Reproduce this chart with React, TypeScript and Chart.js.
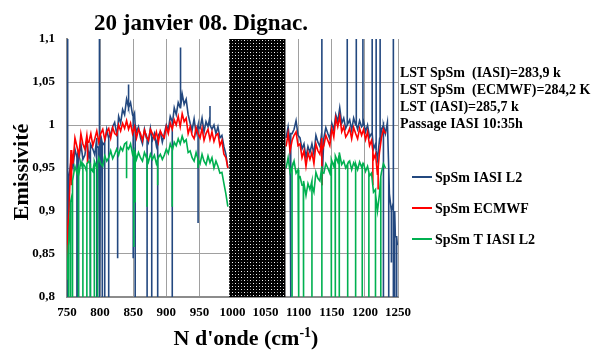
import { useEffect, useRef } from 'react';
import { Chart, registerables } from 'chart.js';

Chart.register(...registerables);

const TITLE = '20 janvier 08. Dignac.';
const Y_TITLE = 'Emissivité';
const X_TITLE_MAIN = "N d'onde (cm";
const X_TITLE_SUP = '-1';
const X_TITLE_END = ')';
const NOTES = [
  'LST SpSm  (IASI)=283,9 k',
  'LST SpSm  (ECMWF)=284,2 K',
  'LST (IASI)=285,7 k',
  'Passage IASI 10:35h',
];
const SERIES_NAMES = ['SpSm IASI L2', 'SpSm ECMWF', 'SpSm T IASI L2'];
const SERIES_COLORS = ['#23487f', '#ff0000', '#00b050'];

const X_MIN = 750;
const X_MAX = 1250;
const X_STEP = 50;
const Y_MIN = 0.8;
const Y_MAX = 1.1;
const Y_STEP = 0.05;
const MASK_FROM = 995;
const MASK_TO = 1080;

// spectral sampling grid (cm-1)
const GRID_A_START = 750;
const GRID_B_START = 1081;
const GRID_STEP = 3;

// ---- SpSm IASI L2 (blue) ----
const BLUE_A = [
  0.90, 0.94, 0.958, 0.95, 0.972, 0.962, 0.955, 0.978, 0.96, 0.965, 0.982, 0.963,
  0.978, 0.972, 0.965, 0.985, 0.974, 0.988, 0.98, 0.976, 0.995, 0.984, 0.99, 0.998,
  1.003, 0.99, 1.01, 1.002, 1.018, 1.012, 1.03, 1.02, 1.026, 1.012, 1.014, 0.992,
  0.998, 0.985, 0.978, 0.995, 0.985, 0.98, 0.996, 0.982, 0.99, 0.976, 0.988, 0.992,
  0.98, 0.99, 1.0, 0.994, 1.01, 1.004, 1.02, 1.012, 1.026, 1.02, 1.036, 1.024,
  1.03, 1.012, 1.002, 0.994, 1.007, 0.99, 1.0, 0.996, 1.008, 0.992, 1.004, 0.998,
  1.01, 0.995, 1.0, 0.99, 0.998, 0.985, 0.988, 0.975, 0.966, 0.95,
];
const BLUE_B = [
  0.985, 0.998, 0.978, 0.99, 0.995, 1.005, 0.988, 0.985, 0.972, 0.978, 0.962, 0.975,
  0.968, 0.978, 0.966, 0.988, 0.98, 0.975, 0.992, 0.985, 0.997, 0.99, 0.984, 1.002,
  0.994, 1.012, 1.004, 1.02, 1.002, 1.008, 0.996, 1.0, 1.006, 0.994, 1.008, 1.0,
  0.995, 1.005, 0.998, 1.004, 0.992, 1.0, 0.986, 0.99, 0.972, 0.978, 0.96, 0.982,
  0.995, 1.0, 0.99, 1.003, 0.92, 0.9, 0.91, 0.87, 0.86,
];
// [wavenumber, local level, spike tip]
const BLUE_SPIKES: [number, number, number][] = [
  [751, 0.8, 1.15], [765, 0.96, 0.8], [767, 0.97, 0.8], [785, 0.97, 0.8], [795, 0.975, 0.8],
  [799, 0.8, 1.15], [803, 0.98, 0.8], [807, 0.98, 0.8], [813, 0.985, 0.8], [826.5, 0.995, 0.845],
  [843, 1.02, 1.047], [850, 1.01, 0.845], [853, 1.0, 0.8], [871, 0.985, 0.8], [878, 0.985, 0.8],
  [887, 0.985, 0.8], [909, 1.0, 0.8], [921.5, 1.02, 1.09], [948, 0.998, 0.886], [966, 1.0, 1.022],
  [1088, 0.99, 0.8], [1135, 0.93, 1.15], [1173, 1.0, 1.15], [1187, 1.0, 1.15], [1197, 1.0, 1.15],
  [1211, 0.99, 1.15], [1217, 0.97, 1.15], [1223, 0.98, 1.15], [1228, 1.0, 0.8], [1236, 0.95, 0.8],
  [1240, 0.9, 0.84], [1243, 0.8, 1.15], [1245, 0.9, 0.8], [1248, 0.87, 0.8],
];

// ---- SpSm ECMWF (red) ----
const RED_A = [
  0.85, 0.9, 0.97, 0.955, 0.985, 0.975, 0.965, 0.99, 0.978, 0.972, 0.988, 0.98,
  0.99, 0.976, 0.984, 0.993, 0.98, 0.99, 0.995, 0.983, 0.992, 0.996, 0.985, 0.997,
  0.99, 0.988, 1.0, 0.993, 1.002, 0.996, 1.005, 0.995, 1.002, 0.99, 0.998, 0.985,
  0.995, 0.99, 0.982, 0.994, 0.986, 0.982, 0.995, 0.99, 0.984, 0.992, 0.98, 0.993,
  0.988, 0.985, 0.998, 0.99, 1.002, 0.995, 1.006, 1.0, 1.01, 0.998, 1.013, 1.004,
  1.008, 0.99, 0.998, 0.988, 0.984, 0.997, 0.99, 0.985, 0.996, 0.982, 0.99, 0.995,
  0.983, 0.992, 0.981, 0.988, 0.99, 0.976, 0.982, 0.966, 0.962, 0.95,
];
const RED_B = [
  0.975, 0.99, 0.97, 0.982, 0.988, 0.992, 0.976, 0.978, 0.962, 0.97, 0.952, 0.968,
  0.96, 0.968, 0.955, 0.978, 0.97, 0.966, 0.985, 0.976, 0.988, 0.982, 0.976, 0.996,
  0.986, 1.008, 0.998, 1.01, 0.992, 0.998, 0.986, 0.99, 0.996, 0.984, 0.997, 0.99,
  0.984, 0.996, 0.988, 0.995, 0.983, 0.992, 0.976, 0.982, 0.96, 0.966, 0.942, 0.968,
  0.985, 0.995, 0.99,
];
const RED_SPIKES: [number, number, number][] = [
  [751, 0.88, 0.83], [757, 0.97, 0.93], [781, 0.98, 0.955], [1135, 0.97, 0.93],
  [1212, 0.97, 0.93], [1220, 0.95, 0.925],
];

// ---- SpSm T IASI L2 (green) ----
const GREEN_A = [
  0.82, 0.86, 0.91, 0.935, 0.952, 0.944, 0.94, 0.958, 0.948, 0.952, 0.945, 0.958,
  0.95, 0.946, 0.958, 0.95, 0.962, 0.955, 0.952, 0.964, 0.958, 0.962, 0.97, 0.961,
  0.966, 0.972, 0.965, 0.974, 0.97, 0.978, 0.98, 0.972, 0.978, 0.966, 0.97, 0.96,
  0.968, 0.962, 0.958, 0.968, 0.962, 0.957, 0.966, 0.96, 0.965, 0.955, 0.962, 0.966,
  0.96, 0.965, 0.972, 0.967, 0.978, 0.972, 0.98, 0.976, 0.984, 0.978, 0.987, 0.98,
  0.983, 0.968, 0.97, 0.962, 0.958, 0.968, 0.96, 0.955, 0.966, 0.958, 0.954, 0.964,
  0.956, 0.962, 0.95, 0.958, 0.952, 0.944, 0.945, 0.932, 0.92, 0.905,
];
const GREEN_B = [
  0.95, 0.962, 0.945, 0.952, 0.958, 0.944, 0.948, 0.94, 0.93, 0.935, 0.918, 0.932,
  0.925, 0.935, 0.922, 0.945, 0.938, 0.935, 0.952, 0.944, 0.955, 0.95, 0.944, 0.96,
  0.952, 0.964, 0.957, 0.968, 0.954, 0.958, 0.95, 0.955, 0.958, 0.948, 0.956, 0.951,
  0.948, 0.957, 0.951, 0.955, 0.946, 0.952, 0.941, 0.944, 0.922, 0.925, 0.9, 0.92,
  0.945, 0.955, 0.95,
];
const GREEN_SPIKES: [number, number, number][] = [
  [752, 0.86, 0.8], [755, 0.9, 0.8], [758, 0.92, 0.8], [767, 0.95, 0.8], [774, 0.955, 0.8],
  [780, 0.955, 0.8], [785, 0.955, 0.8], [791, 0.955, 0.8], [796, 0.955, 0.8], [840, 0.975, 0.938],
  [851, 0.97, 0.858], [853, 0.968, 0.91], [871, 0.962, 0.905], [887, 0.96, 0.93], [909, 0.97, 0.905],
  [948, 0.96, 0.95], [1090, 0.95, 0.8], [1100, 0.94, 0.8], [1107, 0.93, 0.8], [1120, 0.93, 0.8],
  [1135, 0.945, 0.8], [1149, 0.955, 0.8], [1155, 0.96, 0.8], [1161, 0.965, 0.8], [1174, 0.955, 0.8],
  [1186, 0.955, 0.8], [1196, 0.953, 0.8], [1206, 0.945, 0.8], [1216, 0.92, 0.8], [1224, 0.94, 0.8],
];

type Pt = { x: number; y: number | null };

function buildSeries(a: number[], b: number[], spikes: [number, number, number][]): Pt[] {
  const base: Pt[] = [];
  a.forEach((v, i) => base.push({ x: GRID_A_START + i * GRID_STEP, y: v }));
  base.push({ x: (MASK_FROM + MASK_TO) / 2, y: null });
  b.forEach((v, i) => base.push({ x: GRID_B_START + i * GRID_STEP, y: v }));
  const groups: Pt[][] = base.map((p) => [p]);
  spikes.forEach(([x, level, tip]) =>
    groups.push([{ x, y: level }, { x, y: tip }, { x, y: level }])
  );
  groups.sort((g, h) => g[0].x - h[0].x);
  return groups.flat();
}

const FONT = "'Liberation Serif', 'Times New Roman', serif";

function makePattern(ctx: CanvasRenderingContext2D) {
  const c = document.createElement('canvas');
  c.width = 6;
  c.height = 6;
  const g = c.getContext('2d')!;
  g.fillStyle = '#000';
  g.fillRect(0, 0, 6, 6);
  g.fillStyle = '#ffffff';
  g.fillRect(1, 1, 1, 1);
  g.fillRect(4, 4, 1, 1);
  g.fillStyle = '#8a8a8a';
  g.fillRect(4, 1, 1, 1);
  g.fillRect(1, 4, 1, 1);
  return ctx.createPattern(c, 'repeat')!;
}

const decorPlugin = {
  id: 'decor',
  afterDatasetsDraw(chart: any) {
    const { ctx, chartArea, scales } = chart;
    const x0 = scales.x.getPixelForValue(MASK_FROM);
    const x1 = scales.x.getPixelForValue(MASK_TO);
    ctx.save();
    ctx.fillStyle = makePattern(ctx);
    ctx.fillRect(x0, chartArea.top, x1 - x0, chartArea.bottom - chartArea.top);
    ctx.restore();
  },
  afterDraw(chart: any) {
    const { ctx, chartArea } = chart;
    ctx.save();
    ctx.fillStyle = '#000';
    // title
    ctx.font = `bold 23px ${FONT}`;
    ctx.textAlign = 'center';
    ctx.textBaseline = 'alphabetic';
    ctx.fillText(TITLE, 201, 30);
    // y title
    ctx.save();
    ctx.translate(22, (chartArea.top + chartArea.bottom) / 2 + 4);
    ctx.rotate(-Math.PI / 2);
    ctx.font = `bold 22px ${FONT}`;
    ctx.textAlign = 'center';
    ctx.textBaseline = 'middle';
    ctx.fillText(Y_TITLE, 0, 0);
    ctx.restore();
    // x title
    ctx.textAlign = 'left';
    ctx.font = `bold 22px ${FONT}`;
    const wMain = ctx.measureText(X_TITLE_MAIN).width;
    const wEnd = ctx.measureText(X_TITLE_END).width;
    ctx.font = `bold 14px ${FONT}`;
    const wSup = ctx.measureText(X_TITLE_SUP).width;
    const total = wMain + wSup + wEnd;
    let xs = 246 - total / 2;
    ctx.font = `bold 22px ${FONT}`;
    ctx.fillText(X_TITLE_MAIN, xs, 345);
    xs += wMain;
    ctx.font = `bold 14px ${FONT}`;
    ctx.fillText(X_TITLE_SUP, xs, 337);
    xs += wSup;
    ctx.font = `bold 22px ${FONT}`;
    ctx.fillText(X_TITLE_END, xs, 345);
    // notes
    ctx.font = `bold 14px ${FONT}`;
    NOTES.forEach((t, i) => ctx.fillText(t, 400, 77 + i * 17));
    // legend
    ctx.textBaseline = 'middle';
    chart.data.datasets.forEach((ds: any, i: number) => {
      const y = 177 + i * 31;
      ctx.strokeStyle = ds.borderColor;
      ctx.lineWidth = 2;
      ctx.beginPath();
      ctx.moveTo(412, y);
      ctx.lineTo(432, y);
      ctx.stroke();
      ctx.fillStyle = '#000';
      ctx.fillText(ds.label, 435, y + 1);
    });
    ctx.restore();
  },
};

export default function App() {
  const ref = useRef<HTMLCanvasElement | null>(null);
  useEffect(() => {
    if (!ref.current) return;
    const fmt = (v: number) => String(Number(v.toFixed(2))).replace('.', ',');
    const mk = (i: number, a: number[], b: number[], s: [number, number, number][]) => ({
      label: SERIES_NAMES[i],
      data: buildSeries(a, b, s) as any,
      borderColor: SERIES_COLORS[i],
      borderWidth: 1.6,
      pointRadius: 0,
      order: 2 - i,
    });
    const chart = new Chart(ref.current, {
      type: 'line',
      data: {
        datasets: [
          mk(0, BLUE_A, BLUE_B, BLUE_SPIKES),
          mk(1, RED_A, RED_B, RED_SPIKES),
          mk(2, GREEN_A, GREEN_B, GREEN_SPIKES),
        ],
      },
      options: {
        responsive: false,
        animation: false,
        devicePixelRatio: 1,
        spanGaps: false,
        layout: { padding: { top: 39, right: 197, left: 0, bottom: 0 } },
        plugins: { legend: { display: false }, title: { display: false }, tooltip: { enabled: false } },
        scales: {
          x: {
            type: 'linear',
            min: X_MIN,
            max: X_MAX,
            ticks: {
              stepSize: X_STEP,
              padding: 8,
              color: '#000',
              font: { family: FONT, size: 13, weight: 'bold' },
              maxRotation: 0,
              callback: (v: any) => String(v),
            },
            grid: { color: '#a0a0a0', lineWidth: 1, drawTicks: false },
            border: { color: '#8c8c8c', width: 2 },
            afterFit: (s: any) => { s.height = 53; },
          },
          y: {
            type: 'linear',
            min: Y_MIN,
            max: Y_MAX,
            ticks: {
              stepSize: Y_STEP,
              padding: 12,
              color: '#000',
              font: { family: FONT, size: 13, weight: 'bold' },
              callback: (v: any) => fmt(Number(v)),
            },
            grid: {
              color: (c: any) => (c.tick && Math.abs(c.tick.value - Y_MAX) < 1e-6 ? 'rgba(0,0,0,0)' : '#a0a0a0'),
              lineWidth: 1,
              drawTicks: false,
            },
            border: { color: '#8c8c8c', width: 2 },
            afterFit: (s: any) => { s.width = 67; },
          },
        },
      } as any,
      plugins: [decorPlugin],
    });
    return () => chart.destroy();
  }, []);
  return (
    <div style={{ position: 'fixed', left: 0, top: 0, width: 595, height: 350, background: '#fff' }}>
      <canvas ref={ref} width={595} height={350} />
    </div>
  );
}
